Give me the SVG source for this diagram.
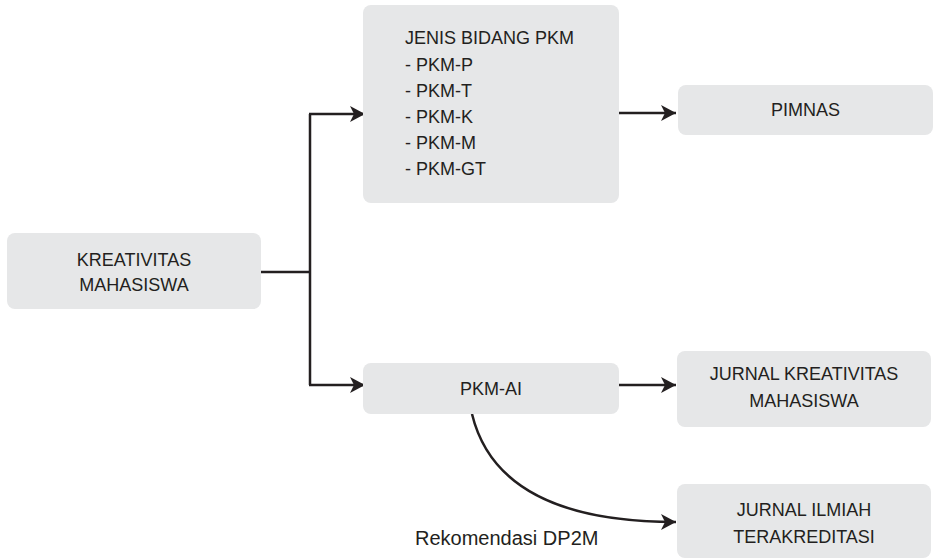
<svg xmlns="http://www.w3.org/2000/svg" width="940" height="559" viewBox="0 0 940 559">
<defs>
<style>
.box{fill:#e6e7e8;}
.t{font-family:"Liberation Sans",Arial,sans-serif;font-size:18px;fill:#231f20;}
.c{text-anchor:middle;}
.ln{fill:none;stroke:#231f20;stroke-width:2.5;}
</style>
<marker id="ah" viewBox="0 0 15 16" refX="15" refY="8" markerWidth="15" markerHeight="16" markerUnits="userSpaceOnUse" orient="auto">
<path d="M0,0 L15,8 L0,16 L4,8 z" fill="#231f20"/>
</marker>
</defs>
<rect width="940" height="559" fill="#ffffff"/>
<g id="connectors">
<path class="ln" d="M261,272 H310"/>
<path class="ln" d="M310,114 V385"/>
<path class="ln" d="M309,114 H365" marker-end="url(#ah)"/>
<path class="ln" d="M309,385 H365" marker-end="url(#ah)"/>
<path class="ln" d="M619,113 H676" marker-end="url(#ah)"/>
<path class="ln" d="M619,385 H676" marker-end="url(#ah)"/>
<path class="ln" d="M472,414 C490,488 560,522 676,522" marker-end="url(#ah)"/>
</g>
<g id="kreativitas">
<rect class="box" x="7" y="233" width="254" height="76" rx="8"/>
<text class="t c" x="134" y="266">KREATIVITAS</text>
<text class="t c" x="134" y="291">MAHASISWA</text>
</g>
<g id="jenis">
<rect class="box" x="363" y="5" width="256" height="198" rx="8"/>
<text class="t" x="405" y="44">JENIS BIDANG PKM</text>
<text class="t" x="405" y="70.5">- PKM-P</text>
<text class="t" x="405" y="96.5">- PKM-T</text>
<text class="t" x="405" y="122.5">- PKM-K</text>
<text class="t" x="405" y="148.8">- PKM-M</text>
<text class="t" x="405" y="175">- PKM-GT</text>
</g>
<g id="pimnas">
<rect class="box" x="678" y="85" width="255" height="50" rx="8"/>
<text class="t c" x="805.5" y="116">PIMNAS</text>
</g>
<g id="pkmai">
<rect class="box" x="363" y="363" width="256" height="51" rx="8"/>
<text class="t c" x="491" y="395">PKM-AI</text>
</g>
<g id="jurnal-kreativitas">
<rect class="box" x="677" y="351" width="254" height="76" rx="8"/>
<text class="t c" x="804" y="380">JURNAL KREATIVITAS</text>
<text class="t c" x="804" y="407">MAHASISWA</text>
</g>
<g id="jurnal-ilmiah">
<rect class="box" x="677" y="484" width="254" height="74" rx="8"/>
<text class="t c" x="804" y="516">JURNAL ILMIAH</text>
<text class="t c" x="804" y="543">TERAKREDITASI</text>
</g>
<text class="t" x="415" y="545" style="font-size:20px">Rekomendasi DP2M</text>
</svg>
